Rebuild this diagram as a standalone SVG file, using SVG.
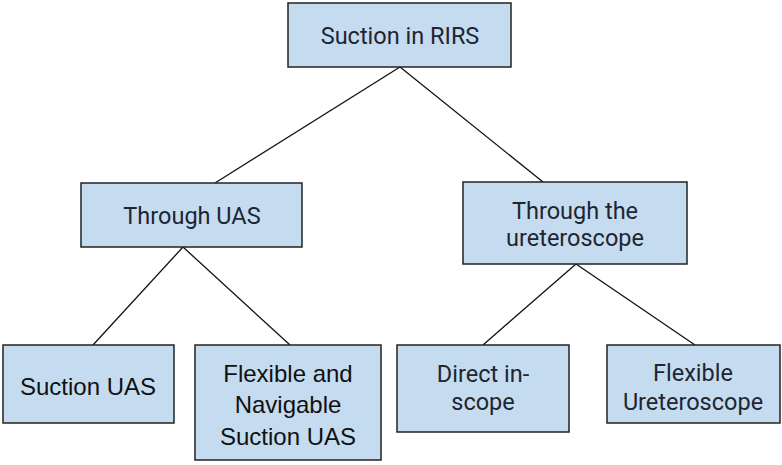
<svg xmlns="http://www.w3.org/2000/svg" width="782" height="465" viewBox="0 0 782 465">
<style>
rect{fill:#c5dcf0;stroke:#222;stroke-width:1.5}
text{text-anchor:middle}
.r{font-family:Roboto,"Liberation Sans",sans-serif;fill:#212530;font-size:23.5px}
.a{font-family:"Liberation Sans",Arial,sans-serif;fill:#111;font-size:24px}
line{stroke:#111;stroke-width:1.3}
</style>
<rect width="782" height="465" style="fill:#fff;stroke:none"/>
<g id="connectors">
<line x1="400" y1="67" x2="215" y2="183"/>
<line x1="400" y1="67" x2="543" y2="182"/>
<line x1="183" y1="247" x2="93" y2="345"/>
<line x1="183" y1="247" x2="290" y2="345"/>
<line x1="576" y1="264" x2="483" y2="345"/>
<line x1="576" y1="264" x2="695" y2="345"/>
</g>
<g id="n1"><rect x="288" y="3" width="223" height="64"/><text class="r" x="400" y="44">Suction in RIRS</text></g>
<g id="n2"><rect x="81" y="183" width="221" height="64"/><text class="r" x="192" y="224">Through UAS</text></g>
<g id="n3"><rect x="463" y="182" width="224" height="82"/><text class="r" x="575" y="219">Through the</text><text class="r" x="575" y="246">ureteroscope</text></g>
<g id="n4"><rect x="3" y="345" width="171" height="78"/><text class="a" x="88" y="395">Suction UAS</text></g>
<g id="n5"><rect x="195" y="345" width="186" height="115"/><text class="a" x="288" y="382">Flexible and</text><text class="a" x="288" y="413">Navigable</text><text class="a" x="288" y="445">Suction UAS</text></g>
<g id="n6"><rect x="397" y="345" width="172" height="87"/><text class="r" x="483" y="382">Direct in-</text><text class="r" x="483" y="410">scope</text></g>
<g id="n7"><rect x="607" y="345" width="173" height="78"/><text class="r" x="693" y="381">Flexible</text><text class="r" x="693" y="410">Ureteroscope</text></g>
</svg>
